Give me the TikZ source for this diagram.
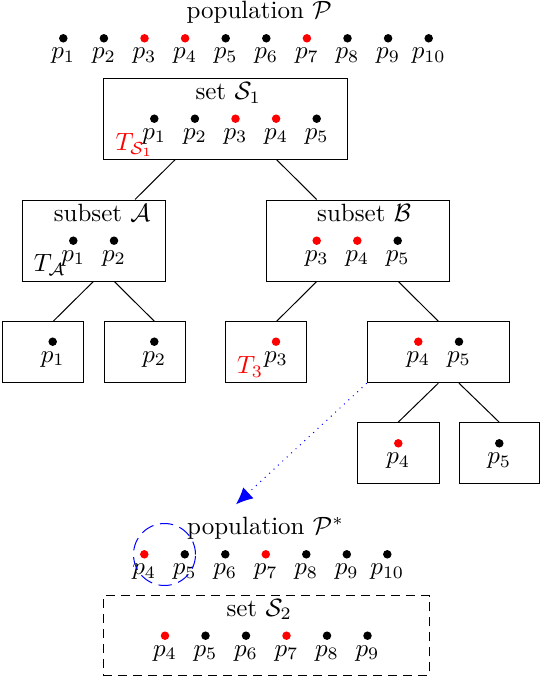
\documentclass[tikz,border=0pt]{standalone}
\usetikzlibrary{arrows.meta}
\begin{document}
\begin{tikzpicture}[x=0.4pt,y=-0.4pt,
  dotb/.style={circle, fill=#1, inner sep=0pt, minimum size=3.4pt},
  plab/.style={inner sep=1.8pt},
  box/.style={draw, rectangle, inner sep=0pt, minimum width=#1, minimum height=24.4pt},
  ttl/.style={anchor=base west, inner sep=0pt},
  tlab/.style={anchor=base west, inner sep=0pt},
  link/.style={draw, line width=0.4pt},
  hint/.style={draw=blue, dotted, -{Latex[length=6.7pt,width=6pt]}},
  ring/.style={draw=blue, dash pattern=on 5.3pt off 2.7pt, circle, inner sep=0pt, minimum size=24.8pt},
  dbox/.style={draw, dash pattern=on 3.6pt off 2.4pt, rectangle, inner sep=0pt}
]
\useasboundingbox (0,0) rectangle (540,679);

% population P
\node[ttl] (tP) at (186,18.6) {population $\mathcal{P}$};
\foreach \i/\x/\c in {1/63.3/black,2/103.9/black,3/144.5/red,4/185.1/red,5/225.7/black,
                      6/266.3/black,7/306.9/red,8/347.5/black,9/388.1/black,10/428.7/black}
  \node[dotb=\c, label={[plab]below:$p_{\i}$}] (P\i) at (\x,38.3) {};

% set S1
\node[box=97.48pt, minimum height=32.24pt] (S1) at (225.85,119) {};
\node[ttl] (tS1) at (195,99.3) {set $\mathcal{S}_1$};
\foreach \i/\x/\c in {1/154.3/black,2/194.9/black,3/235.5/red,4/276.1/red,5/316.7/black}
  \node[dotb=\c, label={[plab]below:$p_{\i}$}] (s\i) at (\x,118.7) {};
\node[tlab, red] (TS1) at (115,150.3) {$T_{\mathcal{S}_1}$};

% subset A
\node[box=56.92pt, minimum height=32.4pt] (A) at (93.85,240.5) {};
\node[ttl] (tA) at (53.3,221.7) {subset $\mathcal{A}$};
\node[dotb=black, label={[plab]below:$p_1$}] (a1) at (73.3,240.7) {};
\node[dotb=black, label={[plab]below:$p_2$}] (a2) at (114,240.7) {};
\node[tlab] (TA) at (33.3,271.3) {$T_{\mathcal{A}}$};

% subset B
\node[box=73.2pt, minimum height=32.4pt] (B) at (357.5,240.5) {};
\node[ttl] (tB) at (316.7,221.7) {subset $\mathcal{B}$};
\node[dotb=red, label={[plab]below:$p_3$}] (b3) at (316.7,240.7) {};
\node[dotb=red, label={[plab]below:$p_4$}] (b4) at (357.3,240.7) {};
\node[dotb=black, label={[plab]below:$p_5$}] (b5) at (397.7,240.7) {};

% leaves, first row
\node[box=32.24pt] (L1) at (43,352.2) {};
\node[dotb=black, label={[plab]below:$p_1$}] (l1) at (52.7,341.7) {};
\node[box=32.4pt] (L2) at (144.5,352.2) {};
\node[dotb=black, label={[plab]below:$p_2$}] (l2) at (154.3,341.7) {};
\node[box=32.4pt] (L3) at (266.2,352.2) {};
\node[dotb=red, label={[plab]below:$p_3$}] (l3) at (276,341.7) {};
\node[tlab, red] (T3) at (236.7,373.7) {$T_3$};
\node[box=56.8pt] (L4) at (438.3,352.2) {};
\node[dotb=red, label={[plab]below:$p_4$}] (l4) at (418.3,341.7) {};
\node[dotb=black, label={[plab]below:$p_5$}] (l5) at (459,341.7) {};

% leaves, second row
\node[box=32.7pt, minimum height=24.5pt] (L5) at (398.15,453.35) {};
\node[dotb=red, label={[plab]below:$p_4$}] (m4) at (398.3,443.3) {};
\node[box=32.2pt, minimum height=24.5pt] (L6) at (499.25,453.35) {};
\node[dotb=black, label={[plab]below:$p_5$}] (m5) at (499.3,443.3) {};

% tree edges
\path[link] ([xshift=-20.34pt]S1.south) -- ([xshift=16.46pt]A.north);
\path[link] ([xshift=20.34pt]S1.south) -- ([xshift=-16.32pt]B.north);
\path[link] ([xshift=-0.2pt]A.south) -- ([xshift=4.12pt]L1.north);
\path[link] ([xshift=8.18pt]A.south) -- ([xshift=3.92pt]L2.north);
\path[link] ([xshift=-16.32pt]B.south) -- ([xshift=4.2pt]L3.north);
\path[link] ([xshift=16.32pt]B.south) -- (L4.north);
\path[link] (L4.south) -- (L5.north);
\path[link] ([xshift=8.28pt]L4.south) -- (L6.north);

% arrow
\coordinate (tip) at (236,504.3);
\draw[hint] (L4.south west) -- (tip);

% population P*
\node[ttl] (tPs) at (186.7,534.3) {population $\mathcal{P}^*$};
\foreach \i/\x/\c in {4/144.3/red,5/184.8/black,6/225.3/black,7/265.8/red,8/306.3/black,9/346.8/black,10/387.3/black}
  \node[dotb=\c, label={[plab]below:$p_{\i}$}] (q\i) at (\x,554.3) {};
\node[ring] (circ) at (164.5,554.5) {};

% set S2
\node[dbox, minimum width=130.28pt, minimum height=32pt] (S2) at (266.15,635.7) {};
\node[ttl] (tS2) at (226,616) {set $\mathcal{S}_2$};
\foreach \i/\x/\c in {4/165/red,5/205.5/black,6/246/black,7/286.5/red,8/327/black,9/367.5/black}
  \node[dotb=\c, label={[plab]below:$p_{\i}$}] (r\i) at (\x,635.7) {};
\end{tikzpicture}
\end{document}
